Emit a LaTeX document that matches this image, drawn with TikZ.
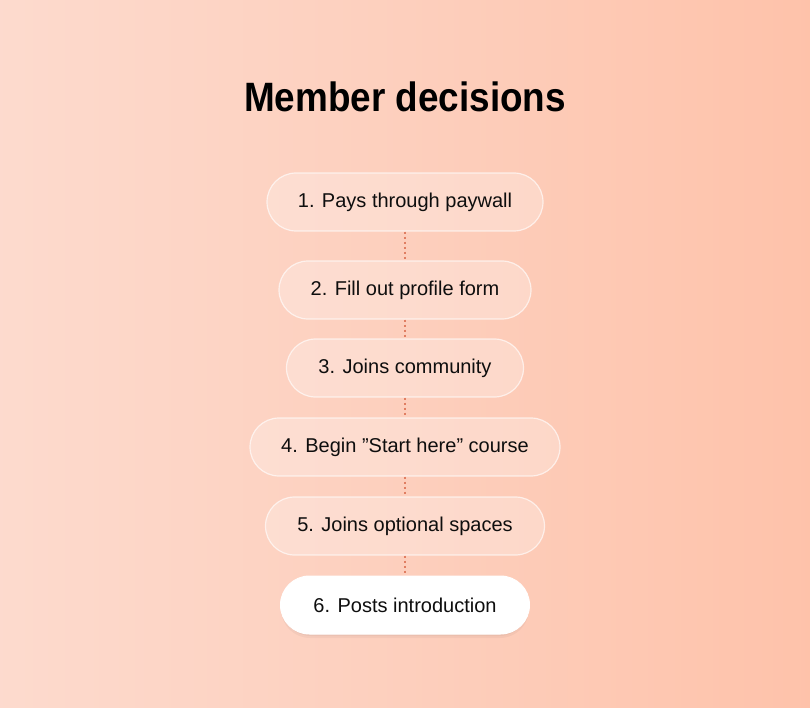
\documentclass[tikz,border=0pt]{standalone}
\usepackage{fontspec}
\setmainfont{Liberation Sans}
\definecolor{bgA}{HTML}{FCE8E0}
\definecolor{bgB}{HTML}{FCE1D7}
\definecolor{bgC}{HTML}{FDD8CA}
\definecolor{bgD}{HTML}{FDCFBD}
\definecolor{bgE}{HTML}{FEC5AE}
\definecolor{bgF}{HTML}{FEBCA2}
\definecolor{bgG}{HTML}{FEB499}
\pgfdeclarehorizontalshading{bgshade}{100bp}{%
  color(0bp)=(bgA); color(12bp)=(bgB); color(30bp)=(bgC); color(50bp)=(bgD); color(70bp)=(bgE); color(86bp)=(bgF); color(100bp)=(bgG)}
\definecolor{dotc}{HTML}{E07E62}
\definecolor{txt}{HTML}{0E0E0E}
\tikzset{
  pill/.style={rounded corners=29pt, minimum height=58pt, inner sep=0pt,
    fill=white, fill opacity=0.26, draw=white, draw opacity=0.65, line width=1.2pt,
    text opacity=1, text=txt, font=\fontsize{20}{24}\selectfont},
  lastpill/.style={rounded corners=29pt, minimum height=58pt, inner sep=0pt,
    fill=white, draw=white, line width=1pt, text=txt,
    font=\fontsize{20}{24}\selectfont},
  shadowpill/.style={rounded corners=29pt, fill=black, fill opacity=0.035, draw=none},
  link/.style={draw=dotc, line width=1.4pt, dash pattern=on 2pt off 3pt}
}
\begin{document}
\begin{tikzpicture}[x=1pt,y=-1pt]
\useasboundingbox (0,0) rectangle (810,708);
\shade[shading=bgshade] (0,0) rectangle (810,708);
\node[font=\fontsize{41}{48}\bfseries, text=black] (title) at (405,97) {\scalebox{0.9}[1]{Member decisions}};
\node[pill, minimum width=276pt] (p1) at (405,202) {1. Pays through paywall};
\node[pill, minimum width=252pt] (p2) at (405,290) {2. Fill out profile form};
\node[pill, minimum width=237pt] (p3) at (405,368) {3. Joins community};
\node[pill, minimum width=310pt] (p4) at (405,447) {4. Begin ”Start here” course};
\node[pill, minimum width=279pt] (p5) at (405,526) {5. Joins optional spaces};
\fill[shadowpill] (281,578) rectangle (529,638);
\fill[shadowpill] (282,579) rectangle (528,636);
\node[lastpill, minimum width=249pt] (p6) at (405,605) {6. Posts introduction};
\draw[link] (p1.south) -- (p2.north);
\draw[link] (p2.south) -- (p3.north);
\draw[link] (p3.south) -- (p4.north);
\draw[link] (p4.south) -- (p5.north);
\draw[link] (p5.south) -- (p6.north);
\end{tikzpicture}
\end{document}
